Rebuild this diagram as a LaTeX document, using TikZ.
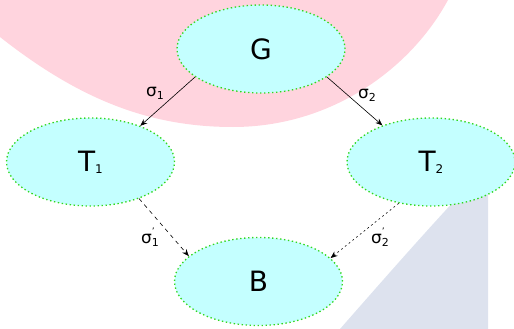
\documentclass[tikz,border=0pt]{standalone}
\usepackage{fontspec}
\setmainfont{DejaVu Sans}
\usetikzlibrary{shapes.geometric,arrows.meta}
\definecolor{pinkbg}{RGB}{255,212,222}
\definecolor{graybg}{RGB}{221,226,238}
\definecolor{nodefill}{RGB}{196,255,255}
\definecolor{nodeline}{RGB}{50,215,30}
\newcommand{\subn}[1]{\raisebox{-3pt}{\fontsize{11}{11}\selectfont #1}}
\newcommand{\subp}[1]{\makebox[0pt][l]{\raisebox{9pt}{\fontsize{9}{9}\selectfont '}}\raisebox{-3pt}{\fontsize{11}{11}\selectfont #1}}
\newcommand{\subT}[1]{\raisebox{-2pt}{\fontsize{12}{12}\selectfont #1}}
\begin{document}
\begin{tikzpicture}[x=1pt,y=-1pt,
  state/.style={ellipse, draw=nodeline, dash pattern=on 1.4pt off 2.6pt, line width=1.3pt, fill=nodefill,
    minimum width=168pt, minimum height=88pt, inner sep=0pt,
    font=\fontsize{28}{28}\selectfont},
  arr/.style={-{Stealth[length=7pt,width=5.5pt]}, line width=0.6pt, black},
  lbl/.style={font=\fontsize{17}{17}\selectfont, inner sep=0pt}
]
\useasboundingbox (0,0) rectangle (514,329);
\begin{scope}
\clip (0,0) rectangle (514,329);
\fill[pinkbg] (0,0) -- (0,37) .. controls (80,100) and (150,127) .. (233,127)
  .. controls (330,127) and (410,70) .. (448,0) -- cycle;
\fill[graybg] (488,329) -- (340,329) .. controls (390,272) and (440,215) .. (488,165) -- cycle;
\end{scope}
\node[state] (G) at (261,49) {G};
\node[state] (T1) at (90.5,162) {T\subT{1}};
\node[state] (T2) at (431,162) {T\subT{2}};
\node[state] (B) at (258.5,281.5) {B};
\draw[arr] (G.203) -- (T1.36);
\draw[arr] (G.337) -- (T2.143);
\draw[arr, dash pattern=on 4pt off 4pt] (T1.323) -- (B.160);
\draw[arr, dash pattern=on 1.8pt off 3pt] (T2.232) -- (B.18);
\node[lbl] (s1) at (155,93) {σ\subn{1}};
\node[lbl] (s2) at (367,95) {σ\subn{2}};
\node[lbl] (s1p) at (150,237) {σ\subp{1}};
\node[lbl] (s2p) at (380,237) {σ\subp{2}};
\end{tikzpicture}
\end{document}
